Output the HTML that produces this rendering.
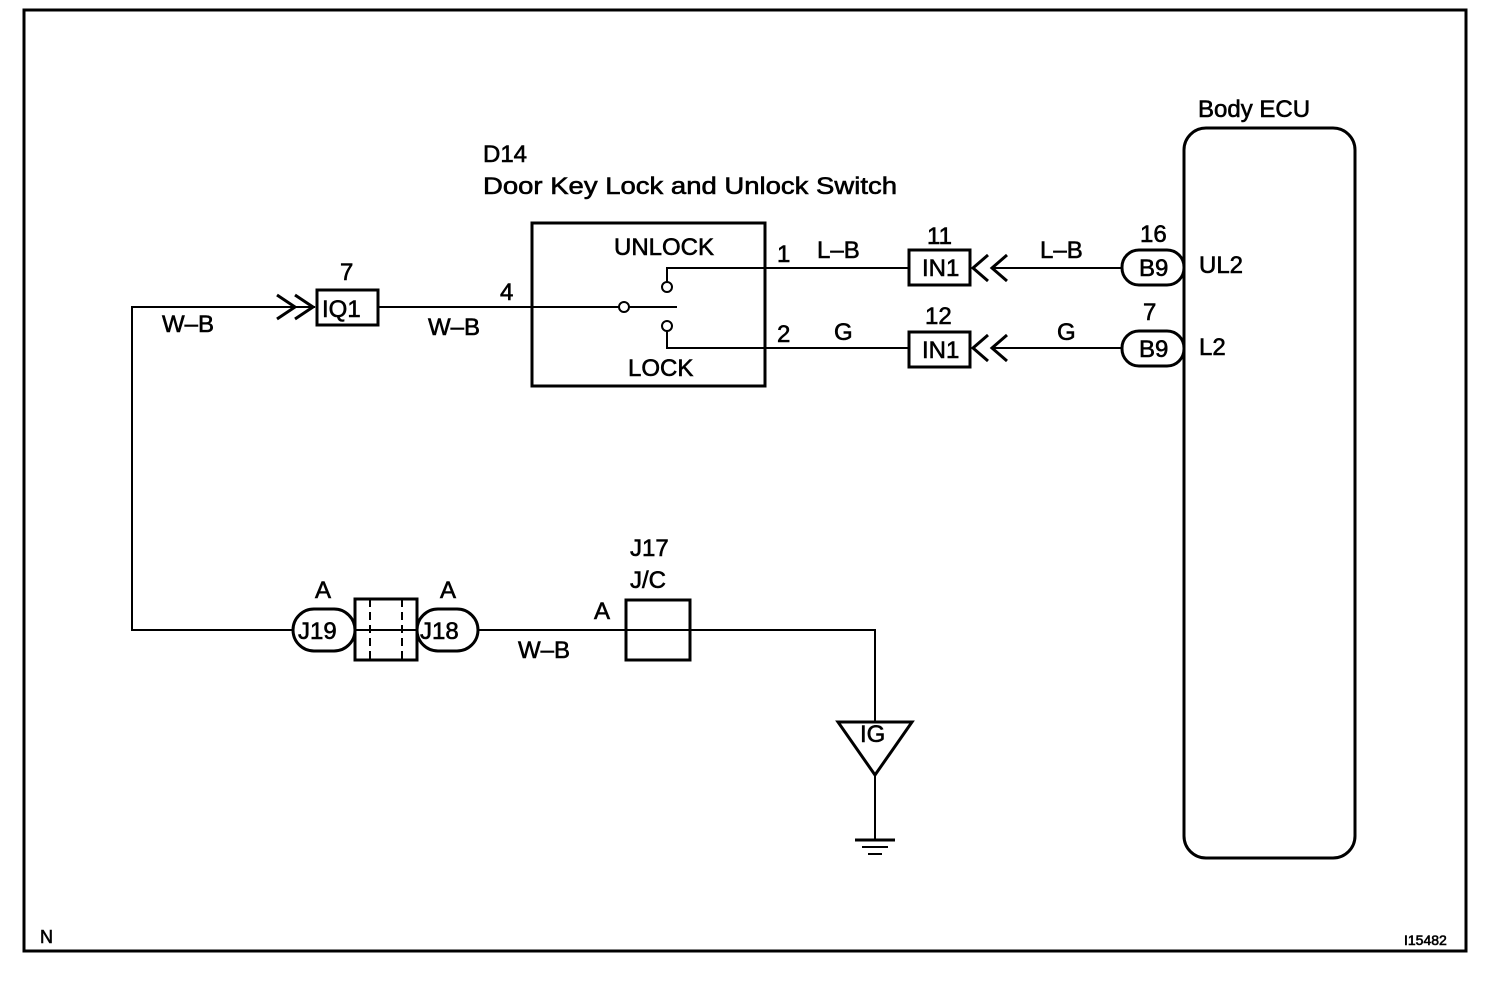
<!DOCTYPE html>
<html><head><meta charset="utf-8"><style>
html,body{margin:0;padding:0;background:#fff}
svg{display:block}
text{font-family:"Liberation Sans",Arial,sans-serif;fill:#000;stroke:#000;stroke-width:0.6}
</style></head><body>
<svg width="1504" height="986" viewBox="0 0 1504 986" xmlns="http://www.w3.org/2000/svg">
<g fill="none" stroke="#000">
<rect x="24" y="10" width="1442" height="941" stroke-width="3"/>
<rect x="1184" y="128" width="171" height="730" rx="22" stroke-width="3"/>
<polyline points="315,307 132,307 132,630 293,630" stroke-width="2"/>
<polyline points="277,295 295,307 277,319" stroke-width="3"/>
<polyline points="295,295 313,307 295,319" stroke-width="3"/>
<rect x="317" y="290" width="61" height="35" stroke-width="3"/>
<line x1="378" y1="307" x2="622" y2="307" stroke-width="2"/>
<rect x="532" y="223" width="233" height="163" stroke-width="3"/>
<circle cx="624" cy="307" r="5" stroke-width="2" fill="#fff"/>
<line x1="629" y1="307" x2="677" y2="307" stroke-width="2"/>
<circle cx="667" cy="287" r="5" stroke-width="2" fill="#fff"/>
<circle cx="667" cy="326" r="5" stroke-width="2" fill="#fff"/>
<polyline points="667,282 667,268 909,268" stroke-width="2"/>
<polyline points="667,331 667,348 909,348" stroke-width="2"/>
<rect x="909" y="250" width="61" height="35" stroke-width="3"/>
<rect x="909" y="332" width="61" height="35" stroke-width="3"/>
<polyline points="988,255 973,268 988,281" stroke-width="3"/>
<polyline points="1007,255 992,268 1007,281" stroke-width="3"/>
<polyline points="988,335 973,348 988,361" stroke-width="3"/>
<polyline points="1007,335 992,348 1007,361" stroke-width="3"/>
<line x1="992" y1="268" x2="1122" y2="268" stroke-width="2"/>
<line x1="992" y1="348" x2="1122" y2="348" stroke-width="2"/>
<rect x="1122" y="250" width="62" height="35" rx="17" stroke-width="3"/>
<rect x="1122" y="331" width="62" height="35" rx="17" stroke-width="3"/>
<rect x="293" y="609" width="62" height="42" rx="21" stroke-width="3"/>
<rect x="355" y="599" width="62" height="61" stroke-width="3"/>
<line x1="370" y1="599" x2="370" y2="660" stroke-width="2" stroke-dasharray="8,5"/>
<line x1="402" y1="599" x2="402" y2="660" stroke-width="2" stroke-dasharray="8,5"/>
<line x1="355" y1="630" x2="417" y2="630" stroke-width="2"/>
<rect x="417" y="609" width="61" height="42" rx="21" stroke-width="3"/>
<polyline points="478,630 875,630 875,722" stroke-width="2"/>
<rect x="626" y="600" width="64" height="60" stroke-width="3"/>
<polygon points="838,722 912,722 875,775" stroke-width="3"/>
<line x1="875" y1="775" x2="875" y2="840" stroke-width="2"/>
<line x1="855" y1="840" x2="895" y2="840" stroke-width="3"/>
<line x1="862" y1="847" x2="888" y2="847" stroke-width="2"/>
<line x1="868" y1="854" x2="882" y2="854" stroke-width="2"/>
</g>
<g font-size="24">
<text x="1198" y="117">Body ECU</text>
<text x="483" y="162">D14</text>
<text x="483" y="194" textLength="414" lengthAdjust="spacingAndGlyphs">Door Key Lock and Unlock Switch</text>
<text x="614" y="255">UNLOCK</text>
<text x="628" y="376">LOCK</text>
<text x="340" y="280">7</text>
<text x="500" y="300">4</text>
<text x="162" y="332">W–B</text>
<text x="428" y="335">W–B</text>
<text x="777" y="262">1</text>
<text x="817" y="258">L–B</text>
<text x="777" y="342">2</text>
<text x="834" y="340">G</text>
<text x="927" y="244">11</text>
<text x="925" y="324">12</text>
<text x="1040" y="258">L–B</text>
<text x="1057" y="340">G</text>
<text x="1140" y="242">16</text>
<text x="1143" y="320">7</text>
<text x="1199" y="273">UL2</text>
<text x="1199" y="355">L2</text>
<text x="322" y="317">IQ1</text>
<text x="922" y="276">IN1</text>
<text x="922" y="358">IN1</text>
<text x="1139" y="276">B9</text>
<text x="1139" y="357">B9</text>
<text x="315" y="598">A</text>
<text x="440" y="598">A</text>
<text x="298" y="639">J19</text>
<text x="420" y="639">J18</text>
<text x="630" y="556">J17</text>
<text x="630" y="588">J/C</text>
<text x="594" y="619">A</text>
<text x="518" y="658">W–B</text>
<text x="860" y="742">IG</text>
<text x="40" y="943" font-size="18">N</text>
<text x="1404" y="945" font-size="14">I15482</text>
</g>
</svg>
</body></html>
